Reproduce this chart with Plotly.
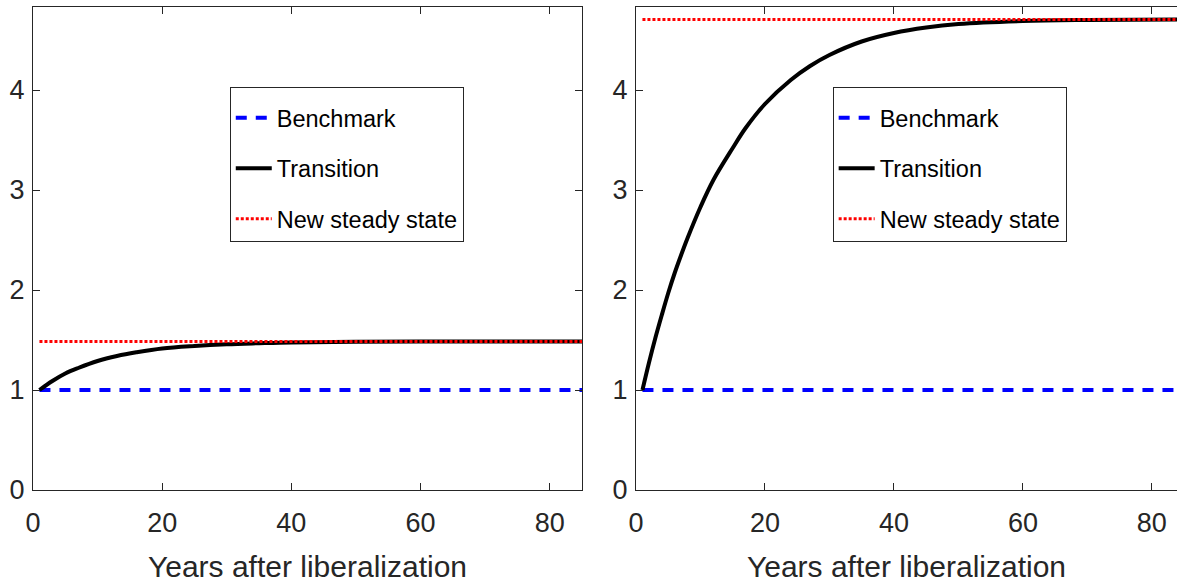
import plotly.graph_objects as go

# ---- data ----
years_left = [1, 3, 5, 7, 10, 13, 16, 20, 25, 30, 35, 40, 50, 60, 70, 85]
transition_left = [1.00, 1.09, 1.165, 1.22, 1.29, 1.34, 1.377, 1.416, 1.441, 1.458,
                   1.468, 1.476, 1.482, 1.485, 1.486, 1.486]
steady_left = 1.486

years_right = [1, 2, 3, 4, 5, 6, 7, 8, 10, 12, 15, 17, 20, 24, 27, 30, 35, 40, 45,
               50, 60, 70, 85]
transition_right = [1.00, 1.27, 1.52, 1.75, 1.97, 2.17, 2.35, 2.52, 2.83, 3.10,
                    3.42, 3.62, 3.86, 4.10, 4.24, 4.35, 4.485, 4.57, 4.625, 4.66,
                    4.69, 4.70, 4.705]
steady_right = 4.705

benchmark = 1.0
x_span = [1, 85]

names = ["Benchmark", "Transition", "New steady state"]
x_ticks = [0, 20, 40, 60, 80]
y_ticks = [0, 1, 2, 3, 4]

FONT = "Liberation Sans, Arial, Helvetica, sans-serif"
AX = "#262626"

fig = go.Figure()

panels = [
    (years_left, transition_left, steady_left, "x", "y", "legend"),
    (years_right, transition_right, steady_right, "x2", "y2", "legend2"),
]
for yrs, tr, ss, xa, ya, lg in panels:
    fig.add_trace(go.Scatter(
        x=x_span, y=[benchmark, benchmark], mode="lines", name=names[0],
        line=dict(color="#0000ff", width=4, dash="11px,9px"),
        xaxis=xa, yaxis=ya, legend=lg, legendgroup=lg + "a"))
    fig.add_trace(go.Scatter(
        x=yrs, y=tr, mode="lines", name=names[1],
        line=dict(color="#000000", width=4, shape="spline", smoothing=1.0),
        xaxis=xa, yaxis=ya, legend=lg, legendgroup=lg + "b"))
    fig.add_trace(go.Scatter(
        x=x_span, y=[ss, ss], mode="lines", name=names[2],
        line=dict(color="#ff0000", width=3, dash="3px,2px"),
        xaxis=xa, yaxis=ya, legend=lg, legendgroup=lg + "c"))

axis_common = dict(
    showline=True, linecolor=AX, linewidth=1, ticks="inside", ticklen=7,
    tickcolor=AX, tickwidth=1, showgrid=False, zeroline=False,
    tickfont=dict(family=FONT, size=27, color=AX),
)
x_title = dict(text="Years after liberalization",
               font=dict(family=FONT, size=30, color=AX), standoff=18)

legend_common = dict(
    font=dict(family=FONT, size=23.5, color="#000000"),
    bgcolor="#ffffff", bordercolor=AX, borderwidth=1,
    xanchor="left", yanchor="top", traceorder="grouped", tracegroupgap=17,
    itemwidth=36,
    title=dict(text=" ", font=dict(size=6)),
)

fig.update_layout(
    width=1177, height=583,
    margin=dict(l=33, r=0, t=7, b=93),
    paper_bgcolor="#ffffff", plot_bgcolor="#ffffff",
    font=dict(family=FONT, color=AX),
    xaxis=dict(domain=[0, 0.4799], range=[0, 85], tickvals=x_ticks,
               mirror="ticks", anchor="y", ticklabelstandoff=9,
               title=x_title, **axis_common),
    yaxis=dict(domain=[0, 1], range=[0, 4.83], tickvals=y_ticks, mirror="ticks",
               anchor="x", ticklabelstandoff=2, **axis_common),
    xaxis2=dict(domain=[0.5271, 1], range=[0, 83.9], tickvals=x_ticks,
                mirror="ticks", anchor="y2", ticklabelstandoff=9,
                title=x_title, **axis_common),
    yaxis2=dict(domain=[0, 1], range=[0, 4.83], tickvals=y_ticks, mirror=False,
                anchor="x2", ticklabelstandoff=2, **axis_common),
    legend=dict(x=0.172, y=0.834, **legend_common),
    legend2=dict(x=0.699, y=0.834, **legend_common),
)

fig.write_html("out.html")
